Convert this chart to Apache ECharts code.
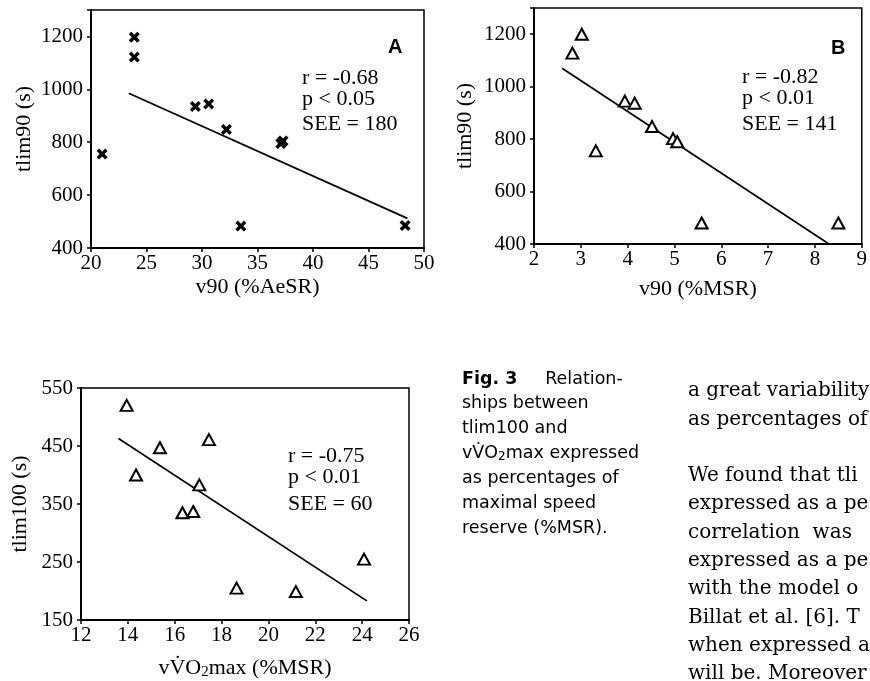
<!DOCTYPE html>
<html><head><meta charset="utf-8">
<script src="https://cdn.jsdelivr.net/npm/echarts@6/dist/echarts.min.js"></script>
<style>html,body{margin:0;padding:0;background:#fff}#c{width:870px;height:681px}</style>
</head><body><div id="c"></div>
<script>
// Panel A: tlim90 vs v90 (%AeSR)
const aX = [21.0, 23.9, 23.9, 29.4, 30.6, 32.2, 33.5, 37.1, 37.3, 48.3];
const aY = [755, 1197, 1122, 935, 945, 848, 483, 795, 805, 485];
const aFitX = [23.4, 48.5];
const aFitY = [985, 512];
const aStats = ['r = -0.68', 'p < 0.05', 'SEE = 180'];
// Panel B: tlim90 vs v90 (%MSR)
const bX = [2.82, 3.02, 3.32, 3.94, 4.15, 4.52, 4.97, 5.06, 5.58, 8.50];
const bY = [1128, 1200, 755, 945, 937, 848, 802, 790, 480, 480];
const bFitX = [2.6, 8.3];
const bFitY = [1070, 400];
const bStats = ['r = -0.82', 'p < 0.01', 'SEE = 141'];
// Panel C: tlim100 vs vVO2max (%MSR)
const cX = [13.95, 14.35, 15.37, 16.33, 16.79, 17.05, 17.46, 18.64, 21.17, 24.08];
const cY = [520, 400, 447, 335, 337, 383, 461, 205, 199, 255];
const cFitX = [13.6, 24.2];
const cFitY = [463, 183];
const cStats = ['r = -0.75', 'p < 0.01', 'SEE = 60'];

const captionLines = ['ships between', 'tlim100 and', null, 'as percentages of', 'maximal speed', 'reserve (%MSR).'];
const bodyLines = ['a great variability', 'as percentages of', '', 'We found that tli', 'expressed as a pe', 'correlation  was', 'expressed as a pe', 'with the model o', 'Billat et al. [6]. T', 'when expressed a', 'will be. Moreover'];

const zip = (xs, ys) => xs.map((x, i) => [x, ys[i]]);
const SERIF = '"Liberation Serif", "Times New Roman", serif';
const crossPath = 'path://M0,2.2 L2.2,0 L5,2.8 L7.8,0 L10,2.2 L7.2,5 L10,7.8 L7.8,10 L5,7.2 L2.2,10 L0,7.8 L2.8,5 Z';

function axisCommon(extra) {
  return Object.assign({
    type: 'value',
    axisLine: { show: true, onZero: false, lineStyle: { color: '#000', width: 2 } },
    axisTick: { show: true, inside: false, length: 4, lineStyle: { color: '#000', width: 1.5 } },
    axisLabel: { color: '#000', fontFamily: SERIF, fontSize: 21, margin: 5 },
    splitLine: { show: false },
    nameTextStyle: { color: '#000', fontFamily: SERIF, fontSize: 22 },
    nameLocation: 'middle'
  }, extra);
}
function gridBox(l, t, w, h) {
  return { left: l, top: t, width: w, height: h, show: true, borderColor: '#000', borderWidth: 1.5, backgroundColor: 'transparent', containLabel: false };
}

const chart = echarts.init(document.getElementById('c'), null, { renderer: 'canvas' });

const stats = (arr, x, ys) => arr.map((t, i) => ({
  type: 'text', left: x, top: ys[i], style: { text: t, font: '22px ' + SERIF, fill: '#000' }
}));

const caption = [];
caption.push({ type: 'text', left: 462, top: 370, style: { text: '{b|Fig. 3}{n|     Relation-}', font: '17.5px "DejaVu Sans"', fill: '#000',
  rich: { b: { fontWeight: 'bold', fontFamily: 'DejaVu Sans', fontSize: 17.5 }, n: { fontFamily: 'DejaVu Sans', fontSize: 17.5 } } } });
captionLines.forEach((t, i) => {
  const y = 394 + i * 25.1;
  if (t === null) {
    caption.push({ type: 'text', left: 462, top: y, style: { text: '{n|vV\u0307O}{s|2}{n|max expressed}', fill: '#000',
      rich: { n: { fontFamily: 'DejaVu Sans', fontSize: 17.5 }, s: { fontFamily: 'DejaVu Sans', fontSize: 12, padding: [8, 0, 0, 0] } } } });
  } else {
    caption.push({ type: 'text', left: 462, top: y, style: { text: t, font: '17.5px "DejaVu Sans"', fill: '#000' } });
  }
});
bodyLines.forEach((t, i) => {
  if (!t) return;
  caption.push({ type: 'text', left: 688, top: 381 + i * 28.3, style: { text: t, font: '20px "DejaVu Serif"', fill: '#000' } });
});

const yLab = { color: '#000', fontFamily: SERIF, fontSize: 21, margin: 8 };

chart.setOption({
  animation: false,
  backgroundColor: '#fff',
  grid: [gridBox(91, 10, 333, 238), gridBox(534, 8, 334, 236), gridBox(81, 388, 328, 234)],
  xAxis: [
    axisCommon({ gridIndex: 0, min: 20, max: 50, interval: 5, name: 'v90 (%AeSR)', nameGap: 28 }),
    axisCommon({ gridIndex: 1, min: 2, max: 9, interval: 1, name: 'v90 (%MSR)', nameGap: 34 }),
    axisCommon({ gridIndex: 2, min: 12, max: 26, interval: 2, name: '{n|vV\u0307O}{s|2}{n|max (%MSR)}', nameGap: 36,
      nameTextStyle: { color: '#000', rich: { n: { fontFamily: SERIF, fontSize: 22 }, s: { fontFamily: SERIF, fontSize: 15, padding: [9, 0, 0, 0] } } } })
  ],
  yAxis: [
    axisCommon({ gridIndex: 0, min: 400, max: 1300, interval: 200, name: 'tlim90 (s)', nameGap: 56,
      axisLabel: Object.assign({}, yLab, { formatter: v => v > 1200 ? '' : v }) }),
    axisCommon({ gridIndex: 1, min: 400, max: 1300, interval: 200, name: 'tlim90 (s)', nameGap: 58,
      axisLabel: Object.assign({}, yLab, { formatter: v => v > 1200 ? '' : v }) }),
    axisCommon({ gridIndex: 2, min: 150, max: 550, interval: 100, name: 'tlim100 (s)', nameGap: 50, axisLabel: yLab })
  ],
  series: [
    { type: 'scatter', xAxisIndex: 0, yAxisIndex: 0, data: zip(aX, aY), symbol: crossPath, symbolSize: 11,
      itemStyle: { color: '#000', opacity: 1 } },
    { type: 'line', xAxisIndex: 0, yAxisIndex: 0, data: zip(aFitX, aFitY), symbol: 'none',
      lineStyle: { color: '#000', width: 1.7 } },
    { type: 'scatter', xAxisIndex: 1, yAxisIndex: 1, data: zip(bX, bY), symbol: 'triangle', symbolSize: [12, 11],
      itemStyle: { color: '#fff', borderColor: '#000', borderWidth: 2, opacity: 1 } },
    { type: 'line', xAxisIndex: 1, yAxisIndex: 1, data: zip(bFitX, bFitY), symbol: 'none',
      lineStyle: { color: '#000', width: 1.7 }, z: 1 },
    { type: 'scatter', xAxisIndex: 2, yAxisIndex: 2, data: zip(cX, cY), symbol: 'triangle', symbolSize: [12, 11],
      itemStyle: { color: '#fff', borderColor: '#000', borderWidth: 2, opacity: 1 } },
    { type: 'line', xAxisIndex: 2, yAxisIndex: 2, data: zip(cFitX, cFitY), symbol: 'none',
      lineStyle: { color: '#000', width: 1.7 }, z: 1 }
  ],
  graphic: [
    { type: 'text', left: 388, top: 37, style: { text: 'A', font: 'bold 20px "Liberation Sans", Arial', fill: '#000' } },
    { type: 'text', left: 831, top: 38, style: { text: 'B', font: 'bold 20px "Liberation Sans", Arial', fill: '#000' } },
    ...stats(aStats, 302, [67, 88, 113]),
    ...stats(bStats, 742, [66, 87, 113]),
    ...stats(cStats, 288, [445, 466, 493]),
    ...caption
  ]
});
</script></body></html>
